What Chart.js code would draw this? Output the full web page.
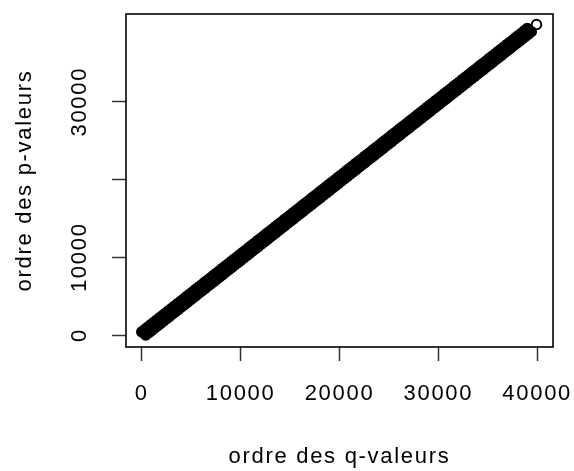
<!DOCTYPE html>
<html>
<head>
<meta charset="utf-8">
<script src="https://cdn.jsdelivr.net/npm/chart.js@4.4.1/dist/chart.umd.min.js"></script>
<style>
  html, body { margin: 0; padding: 0; background: #fff; }
  canvas { display: block; }
</style>
</head>
<body>
<canvas id="c" width="574" height="471"></canvas>
<script>
// Axis ticks and labels
const xTicks = [0, 10000, 20000, 30000, 40000];
const xTickLabels = ['0', '10000', '20000', '30000', '40000'];
const yTicks = [0, 10000, 20000, 30000];
const yTickLabels = ['0', '10000', '', '30000'];
const xTitle = 'ordre des q-valeurs';
const yTitle = 'ordre des p-valeurs';

// Rank pairs (q-value order, p-value order): upper edge of the dense band
const upperQ = [0,300,600,900,1200,1500,1800,2100,2400,2700,3000,3300,3600,3900,4200,4500,4800,5100,5400,5700,6000,6300,6600,6900,7200,7500,7800,8100,8400,8700,9000,9300,9600,9900,10200,10500,10800,11100,11400,11700,12000,12300,12600,12900,13200,13500,13800,14100,14400,14700,15000,15300,15600,15900,16200,16500,16800,17100,17400,17700,18000,18300,18600,18900,19200,19500,19800,20100,20400,20700,21000,21300,21600,21900,22200,22500,22800,23100,23400,23700,24000,24300,24600,24900,25200,25500,25800,26100,26400,26700,27000,27300,27600,27900,28200,28500,28800,29100,29400,29700,30000,30300,30600,30900,31200,31500,31800,32100,32400,32700,33000,33300,33600,33900,34200,34500,34800,35100,35400,35700,36000,36300,36600,36900,37200,37500,37800,38100,38400,38700,39000];
const upperP = [400,700,1000,1300,1600,1900,2200,2500,2800,3100,3400,3700,4000,4300,4600,4900,5200,5500,5800,6100,6400,6700,7000,7300,7600,7900,8200,8500,8800,9100,9400,9700,10000,10300,10600,10900,11200,11500,11800,12100,12400,12700,13000,13300,13600,13900,14200,14500,14800,15100,15400,15700,16000,16300,16600,16900,17200,17500,17800,18100,18400,18700,19000,19300,19600,19900,20200,20500,20800,21100,21400,21700,22000,22300,22600,22900,23200,23500,23800,24100,24400,24700,25000,25300,25600,25900,26200,26500,26800,27100,27400,27700,28000,28300,28600,28900,29200,29500,29800,30100,30400,30700,31000,31300,31600,31900,32200,32500,32800,33100,33400,33700,34000,34300,34600,34900,35200,35500,35800,36100,36400,36700,37000,37300,37600,37900,38200,38500,38800,39100,39400];

// Lower edge of the dense band
const lowerQ = [400,700,1000,1300,1600,1900,2200,2500,2800,3100,3400,3700,4000,4300,4600,4900,5200,5500,5800,6100,6400,6700,7000,7300,7600,7900,8200,8500,8800,9100,9400,9700,10000,10300,10600,10900,11200,11500,11800,12100,12400,12700,13000,13300,13600,13900,14200,14500,14800,15100,15400,15700,16000,16300,16600,16900,17200,17500,17800,18100,18400,18700,19000,19300,19600,19900,20200,20500,20800,21100,21400,21700,22000,22300,22600,22900,23200,23500,23800,24100,24400,24700,25000,25300,25600,25900,26200,26500,26800,27100,27400,27700,28000,28300,28600,28900,29200,29500,29800,30100,30400,30700,31000,31300,31600,31900,32200,32500,32800,33100,33400,33700,34000,34300,34600,34900,35200,35500,35800,36100,36400,36700,37000,37300,37600,37900,38200,38500,38800,39100,39400];
const lowerP = [0,300,600,900,1200,1500,1800,2100,2400,2700,3000,3300,3600,3900,4200,4500,4800,5100,5400,5700,6000,6300,6600,6900,7200,7500,7800,8100,8400,8700,9000,9300,9600,9900,10200,10500,10800,11100,11400,11700,12000,12300,12600,12900,13200,13500,13800,14100,14400,14700,15000,15300,15600,15900,16200,16500,16800,17100,17400,17700,18000,18300,18600,18900,19200,19500,19800,20100,20400,20700,21000,21300,21600,21900,22200,22500,22800,23100,23400,23700,24000,24300,24600,24900,25200,25500,25800,26100,26400,26700,27000,27300,27600,27900,28200,28500,28800,29100,29400,29700,30000,30300,30600,30900,31200,31500,31800,32100,32400,32700,33000,33300,33600,33900,34200,34500,34800,35100,35400,35700,36000,36300,36600,36900,37200,37500,37800,38100,38400,38700,39000];

// Last, isolated point
const endQ = [39930];
const endP = [39925];

const pairs = (qs, ps) => qs.map((q, i) => ({ x: q, y: ps[i] }));

const FONT = { family: "'Liberation Sans', Arial, Helvetica, sans-serif", size: 22, lineHeight: 1 };
const SPACING = '1.7px';

// Slightly wider letter spacing for all canvas text
const spacingPlugin = {
  id: 'spacing',
  beforeLayout(chart) { chart.ctx.letterSpacing = SPACING; },
  beforeDraw(chart) { chart.ctx.letterSpacing = SPACING; }
};

// Frame around the plotting region
const boxPlugin = {
  id: 'box',
  afterDraw(chart) {
    const { ctx, chartArea: a } = chart;
    ctx.save();
    ctx.strokeStyle = '#000';
    ctx.lineWidth = 1.6;
    ctx.strokeRect(a.left, a.top, a.right - a.left, a.bottom - a.top);
    ctx.restore();
  }
};

const pointStyle = (fill) => ({
  showLine: false,
  pointRadius: 4.8,
  pointHoverRadius: 4.8,
  pointBorderWidth: 2,
  pointBorderColor: '#000',
  pointBackgroundColor: fill
});

new Chart(document.getElementById('c'), {
  type: 'scatter',
  data: {
    datasets: [
      Object.assign({ data: pairs(upperQ, upperP) }, pointStyle('#000')),
      Object.assign({ data: pairs(lowerQ, lowerP) }, pointStyle('#000')),
      Object.assign({ data: pairs(endQ, endP) }, pointStyle('rgba(0,0,0,0)'))
    ]
  },
  options: {
    responsive: false,
    animation: false,
    events: [],
    layout: { padding: { top: 14, right: 21, left: 0, bottom: 0 } },
    plugins: { legend: { display: false }, tooltip: { enabled: false } },
    scales: {
      x: {
        type: 'linear',
        position: 'bottom',
        min: -1599,
        max: 41599,
        afterBuildTicks: s => { s.ticks = xTicks.map(v => ({ value: v })); },
        afterFit: s => { s.height = 124; s.paddingLeft = 0; s.paddingRight = 0; },
        ticks: {
          autoSkip: false, minRotation: 0, maxRotation: 0,
          padding: 22, color: '#000', font: FONT,
          callback: v => xTickLabels[xTicks.indexOf(v)]
        },
        grid: { display: true, drawOnChartArea: false, drawTicks: true, tickLength: 14, tickColor: '#333', tickWidth: 1.5 },
        border: { display: false },
        title: { display: true, text: xTitle, color: '#000', font: FONT, padding: { top: 0, bottom: 3 } }
      },
      y: {
        type: 'linear',
        position: 'left',
        min: -1543,
        max: 41276,
        afterBuildTicks: s => { s.ticks = yTicks.map(v => ({ value: v })); },
        afterFit: s => { s.width = 126; s.paddingTop = 0; s.paddingBottom = 0; },
        ticks: {
          autoSkip: false, minRotation: 90, maxRotation: 90, crossAlign: 'center',
          padding: -3, color: '#000', font: FONT,
          callback: v => yTickLabels[yTicks.indexOf(v)]
        },
        grid: { display: true, drawOnChartArea: false, drawTicks: true, tickLength: 14, tickColor: '#333', tickWidth: 1.5 },
        border: { display: false },
        title: { display: true, text: yTitle, color: '#000', font: FONT, padding: { top: 13.5, bottom: 0 } }
      }
    }
  },
  plugins: [spacingPlugin, boxPlugin]
});
</script>
</body>
</html>
